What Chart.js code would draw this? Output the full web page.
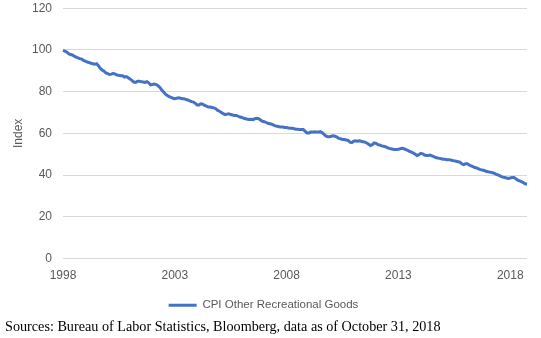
<!DOCTYPE html>
<html>
<head>
<meta charset="utf-8">
<script src="https://cdn.jsdelivr.net/npm/chart.js@4/dist/chart.umd.min.js"></script>
<style>
  html, body { margin: 0; padding: 0; background: #fff; overflow: hidden; }
  #wrap { position: relative; width: 541px; height: 338px; overflow: hidden; }
  #box { position: absolute; left: 0; top: -10px; width: 541px; height: 331px; }
  #src { position: absolute; left: 5px; top: 318px; font-family: "Liberation Serif", "Times New Roman", serif; font-size: 14.2px; color: #000; white-space: nowrap; }
</style>
</head>
<body>
<div id="wrap">
  <div id="box"><canvas id="c"></canvas></div>
  <div id="src">Sources: Bureau of Labor Statistics, Bloomberg, data as of October 31, 2018</div>
</div>
<script>
// Monthly data, January 1998 through October 2018
const startYear = 1998;
const endYear = 2018;
const lastMonth = 10;
const tickYears = ['1998', '2003', '2008', '2013', '2018'];
const yTicks = [0, 20, 40, 60, 80, 100, 120];
const seriesName = 'CPI Other Recreational Goods';

const cpiOtherRecreationalGoods = [
  // 1998
  99.8, 99.4, 99.0, 98.2, 97.8, 97.6, 97.0, 96.6, 96.2, 95.8, 95.6, 95.0,
  // 1999
  94.6, 94.2, 94.0, 93.6, 93.4, 93.2, 93.4, 92.4, 91.2, 90.4, 89.8, 89.0,
  // 2000
  88.6, 88.2, 88.4, 88.8, 88.4, 88.0, 87.8, 87.6, 87.6, 87.0, 87.2, 86.6,
  // 2001
  86.0, 85.4, 84.6, 84.4, 85.0, 85.0, 84.8, 84.6, 84.4, 84.8, 84.2, 83.2,
  // 2002
  83.4, 83.6, 83.4, 82.8, 82.0, 80.8, 79.8, 78.8, 78.2, 77.6, 77.2, 76.8,
  // 2003
  76.6, 76.8, 77.0, 76.8, 76.6, 76.6, 76.2, 76.0, 75.6, 75.2, 75.0, 74.4,
  // 2004
  73.6, 73.6, 74.2, 74.0, 73.4, 73.0, 72.6, 72.6, 72.4, 72.2, 71.8, 71.0,
  // 2005
  70.6, 70.0, 69.4, 69.0, 69.2, 69.4, 69.0, 68.8, 68.6, 68.6, 68.2, 67.8,
  // 2006
  67.6, 67.2, 67.0, 66.8, 66.6, 66.8, 66.6, 67.0, 67.2, 67.0, 66.4, 65.8,
  // 2007
  65.6, 65.2, 64.8, 64.6, 64.4, 64.0, 63.6, 63.4, 63.2, 63.0, 63.0, 62.8,
  // 2008
  62.8, 62.6, 62.4, 62.4, 62.2, 62.0, 62.0, 61.8, 61.8, 61.8, 61.0, 60.2,
  // 2009
  60.2, 60.6, 60.6, 60.8, 60.6, 60.6, 60.8, 60.4, 59.6, 58.8, 58.4, 58.4,
  // 2010
  58.6, 58.8, 58.6, 58.2, 57.6, 57.4, 57.0, 57.0, 56.8, 56.6, 55.8, 55.6,
  // 2011
  56.2, 56.4, 56.2, 56.4, 56.2, 56.0, 55.8, 55.4, 54.8, 54.2, 54.6, 55.4,
  // 2012
  55.2, 54.6, 54.4, 54.0, 53.8, 53.6, 53.2, 52.8, 52.6, 52.4, 52.2, 52.2,
  // 2013
  52.4, 52.6, 52.8, 52.6, 52.2, 51.8, 51.4, 51.0, 50.6, 50.0, 49.4, 49.8,
  // 2014
  50.4, 50.2, 49.6, 49.4, 49.4, 49.6, 49.2, 48.8, 48.4, 48.2, 48.0, 47.8,
  // 2015
  47.6, 47.6, 47.4, 47.4, 47.2, 47.0, 46.8, 46.6, 46.4, 46.2, 45.4, 45.0,
  // 2016
  45.4, 45.4, 44.8, 44.4, 44.0, 43.6, 43.4, 43.0, 42.6, 42.4, 42.2, 41.8,
  // 2017
  41.6, 41.4, 41.2, 41.0, 40.6, 40.2, 39.8, 39.4, 39.0, 38.8, 38.6, 38.4,
  // 2018
  38.6, 38.8, 38.8, 38.2, 37.6, 37.2, 36.8, 36.4, 35.8, 35.6
];

// Month categories built from the year range
const months = [];
for (let y = startYear; y <= endYear; y++) {
  const lm = (y === endYear) ? lastMonth : 12;
  for (let m = 1; m <= lm; m++) months.push(y + '-' + String(m).padStart(2, '0'));
}

const grey = '#595959';
const blue = '#4472C4';
const sans = 'Liberation Sans, Arial, sans-serif';

new Chart(document.getElementById('c'), {
  type: 'line',
  data: {
    labels: months,
    datasets: [{
      label: seriesName,
      data: cpiOtherRecreationalGoods,
      borderColor: blue,
      backgroundColor: blue,
      borderWidth: 3,
      pointRadius: 0,
      tension: 0,
      fill: false
    }]
  },
  options: {
    responsive: true,
    maintainAspectRatio: false,
    animation: false,
    layout: { padding: { left: 0, right: 14, top: 2, bottom: 0 } },
    plugins: {
      tooltip: { enabled: false },
      legend: {
        position: 'bottom',
        labels: {
          color: grey,
          font: { family: sans, size: 11.5 },
          boxWidth: 28,
          boxHeight: 3,
          padding: 8,
          generateLabels: (chart) => chart.data.datasets.map((ds, i) => ({
            text: ds.label,
            fillStyle: ds.borderColor,
            strokeStyle: ds.borderColor,
            lineWidth: 0,
            fontColor: grey,
            datasetIndex: i
          }))
        }
      }
    },
    scales: {
      x: {
        type: 'category',
        offset: false,
        grid: { display: false, drawTicks: false },
        border: { display: false },
        afterFit: (axis) => { axis.height = 33; },
        ticks: {
          autoSkip: false,
          maxRotation: 0,
          minRotation: 0,
          padding: 10,
          color: grey,
          font: { family: sans, size: 12 },
          callback: function (val, idx) {
            const lab = this.getLabelForValue(val);
            const [yy, mm] = lab.split('-');
            return (mm === '01' && tickYears.includes(yy)) ? yy : '';
          }
        }
      },
      y: {
        min: yTicks[0],
        max: yTicks[yTicks.length - 1],
        afterBuildTicks: (axis) => { axis.ticks = yTicks.map(v => ({ value: v })); },
        afterFit: (axis) => { axis.width = 63; },
        grid: { color: '#d9d9d9', lineWidth: 1, drawTicks: false },
        border: { display: false },
        title: {
          display: true,
          text: 'Index',
          color: grey,
          font: { family: sans, size: 12 },
          padding: { top: 11, bottom: 0 }
        },
        ticks: {
          padding: 11,
          color: grey,
          font: { family: sans, size: 12 }
        }
      }
    }
  }
});
</script>
</body>
</html>
